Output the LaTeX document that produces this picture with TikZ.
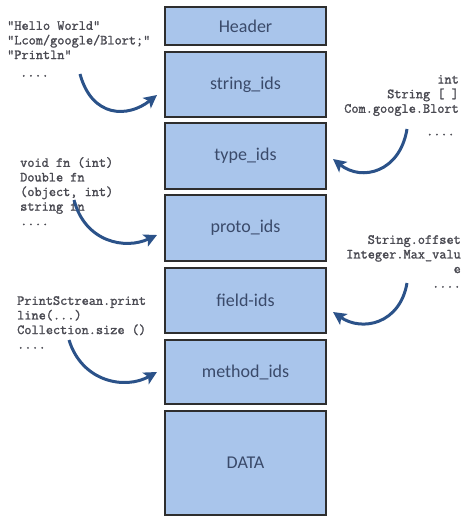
\documentclass[tikz,border=0pt]{standalone}
\usepackage{fontspec}
\newfontfamily\boxfont{Carlito}
\newfontfamily\codefont[FakeBold=1.6]{Latin Modern Mono}
\usetikzlibrary{arrows.meta}
\definecolor{boxfill}{HTML}{A9C5EB}
\definecolor{boxline}{HTML}{2E2E2E}
\definecolor{boxtext}{HTML}{3A4A6A}
\definecolor{codetext}{HTML}{4A4A52}
\definecolor{arrowblue}{HTML}{2B5289}
\tikzset{
  segbox/.style={draw=boxline, line width=1.4pt, fill=boxfill, minimum width=161pt,
    text=boxtext, font=\boxfont\fontsize{18}{20}\selectfont, inner sep=0pt},
  codetxt/.style={text=codetext, inner sep=0pt,
    font=\codefont\fontsize{13.9}{14.6}\selectfont},
  curvearrow/.style={draw=arrowblue, line width=3pt,
    -{Stealth[length=13pt,width=13pt,inset=3pt]}}
}
\begin{document}
\begin{tikzpicture}[x=1pt,y=-1pt]
\useasboundingbox (0,0) rectangle (462,516);
% boxes
\node[segbox, minimum height=38pt] (header) at (245.5,26) {Header};
\node[segbox, minimum height=65pt] (strings) at (245.5,84.5) {string\_ids};
\node[segbox, minimum height=66pt] (types) at (245.5,156) {type\_ids};
\node[segbox, minimum height=66pt] (protos) at (245.5,228) {proto\_ids};
\node[segbox, minimum height=65pt] (fields) at (245.5,300.5) {field-ids};
\node[segbox, minimum height=64pt] (methods) at (245.5,372) {method\_ids};
\node[segbox, minimum height=104pt] (data) at (245.5,463) {DATA};
% texts
\node[codetxt, anchor=north west, align=left] (t1) at (7,21)
  {"Hello World"\\"Lcom/google/Blort;"\\"Println"\\[3pt]\hspace*{13pt}....};
\node[codetxt, anchor=north east, align=right] (t2) at (459,75)
  {int\\String [ ]\\Com.google.Blort\\[8pt]....\hspace*{4pt}};
\node[codetxt, anchor=north west, align=left] (t3) at (20,157)
  {void fn (int)\\Double fn\\(object, int)\\string fn\\....};
\node[codetxt, anchor=north east, align=right] (t4) at (461,235)
  {String.offset\\Integer.Max\_valu\\e\\....};
\node[codetxt, anchor=north west, align=left] (t5) at (17,296)
  {PrintSctrean.print\\line(...)\\Collection.size ()\\....};
% arrow ends
\coordinate (s1) at (80,74);   \coordinate (e1) at (157,95);
\coordinate (s2) at (407,129); \coordinate (e2) at (333,159);
\coordinate (s3) at (74,200);  \coordinate (e3) at (157,235);
\coordinate (s4) at (407,283); \coordinate (e4) at (333,312);
\coordinate (s5) at (69,340);  \coordinate (e5) at (157,372);
\draw[curvearrow] (s1) .. controls (92,118) and (128,118) .. (e1);
\draw[curvearrow] (s2) .. controls (400,172) and (362,182) .. (e2);
\draw[curvearrow] (s3) .. controls (85,242) and (125,250) .. (e3);
\draw[curvearrow] (s4) .. controls (400,324) and (362,332) .. (e4);
\draw[curvearrow] (s5) .. controls (82,382) and (125,390) .. (e5);
\end{tikzpicture}
\end{document}
